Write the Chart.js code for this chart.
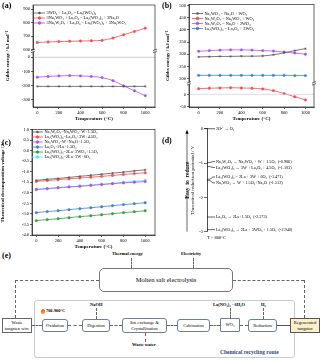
<!DOCTYPE html>
<html>
<head>
<meta charset="utf-8">
<script src="https://cdn.jsdelivr.net/npm/chart.js@4.4.1/dist/chart.umd.min.js"></script>
<style>
  body { margin: 0; background: #fff; font-family: "Liberation Serif", serif; }
  #wrap { position: relative; width: 323px; height: 360px; overflow: hidden; }
  canvas { position: absolute; }
  .lbl { position: absolute; font-weight: bold; font-size: 8px; }
  .t { position: absolute; font-size: 4.5px; line-height: 1.1; white-space: nowrap; text-align: center; }
  .bx { position: absolute; box-sizing: border-box; border: 0.7px solid #6f7f90; border-radius: 3px; background: #fff;
        display: flex; align-items: center; justify-content: center; text-align: center; font-size: 4.5px; line-height: 1.15; }
  .hd { position: absolute; height: 0; border-top: 1px dashed #666; }
  .vd { position: absolute; width: 0; border-left: 1px dashed #666; }
</style>
</head>
<body>
<div id="wrap">
  <canvas id="ca" width="160" height="125" style="left:0;top:0"></canvas>
  <canvas id="cb" width="163" height="125" style="left:160px;top:0"></canvas>
  <canvas id="cc" width="160" height="125" style="left:0;top:125px"></canvas>
  <canvas id="cd" width="163" height="120" style="left:160px;top:125px"></canvas>

  <div class="lbl" style="left:2px;top:1px">(a)</div>
  <div class="lbl" style="left:162px;top:1px">(b)</div>
  <div class="lbl" style="left:2px;top:138px">(c)</div>
  <div class="lbl" style="left:162px;top:136px">(d)</div>
  <div class="lbl" style="left:2px;top:251px">(e)</div>

  <!-- (e) flow diagram -->
  <div class="t" style="left:112px;top:252px;font-weight:bold">Thermal energy</div>
  <div class="t" style="left:181px;top:252px;font-weight:bold">Electricity</div>
  <div class="vd" style="left:131px;top:258px;height:10px"></div>
  <div class="vd" style="left:193px;top:258px;height:10px"></div>
  <div class="bx" style="left:99px;top:268px;width:134px;height:24px;border-radius:5px;border-color:#777;font-size:6.5px">Molten salt electrolysis</div>
  <div class="hd" style="left:15px;top:280px;width:84px"></div>
  <div class="vd" style="left:15px;top:280px;height:38px"></div>
  <div class="hd" style="left:233px;top:280px;width:71px"></div>
  <div class="vd" style="left:304px;top:280px;height:38px"></div>

  <div style="position:absolute;left:34px;top:300px;width:261px;height:58px;box-sizing:border-box;border:1px solid #c3ccd6;border-radius:3px"></div>
  <div class="t" style="left:220px;top:349px;font-size:5.5px;font-weight:bold;color:#2c4a86">Chemical recycling route</div>

  <div class="hd" style="left:32px;top:325px;width:10px"></div>
  <div class="hd" style="left:68px;top:325px;width:14px"></div>
  <div class="hd" style="left:110px;top:325px;width:12px"></div>
  <div class="hd" style="left:167px;top:325px;width:10px"></div>
  <div class="hd" style="left:210px;top:325px;width:10px"></div>
  <div class="hd" style="left:240px;top:325px;width:8px"></div>
  <div style="position:absolute;left:277px;top:325px;width:13px;height:0;border-top:1px solid #555"></div>

  <div class="bx" style="left:2px;top:318px;width:30px;height:15px;border-radius:0;border-color:#666">Waste<br>tungsten wire</div>
  <div class="bx" style="left:42px;top:319px;width:26px;height:13px">Oxidation</div>
  <div class="bx" style="left:82px;top:319px;width:28px;height:13px">Digestion</div>
  <div class="bx" style="left:122px;top:318px;width:45px;height:15px">Ion exchange &amp;<br>Crystallization</div>
  <div class="bx" style="left:177px;top:319px;width:33px;height:13px">Calcination</div>
  <div class="bx" style="left:220px;top:318px;width:20px;height:14px;border-radius:1px">WO₃</div>
  <div class="bx" style="left:248px;top:319px;width:29px;height:13px">Reduction</div>
  <div class="bx" style="left:290px;top:318px;width:30px;height:15px;border-radius:0;border-color:#555;background:#fbeecb">Regenerated<br>tungsten</div>

  <div style="position:absolute;left:41px;top:309px;width:4px;height:5px;border-radius:50% 50% 40% 40%;background:linear-gradient(#ff3b30,#ffb300)"></div>
  <div class="t" style="left:46px;top:309px;font-weight:bold;font-size:4.3px">700-900°C</div>
  <div class="t" style="left:90px;top:303px;font-weight:bold">NaOH</div>
  <div class="vd" style="left:96px;top:308px;height:11px"></div>
  <div class="t" style="left:213px;top:303px;font-weight:bold">La(NO₃)₃ · 6H₂O</div>
  <div class="vd" style="left:230px;top:308px;height:10px"></div>
  <div class="t" style="left:261px;top:303px;font-weight:bold">H₂</div>
  <div class="vd" style="left:263px;top:308px;height:11px"></div>
  <div class="vd" style="left:145px;top:333px;height:9px;border-left-color:#e8343a"></div>
  <div class="t" style="left:132px;top:343px;font-weight:bold">Waste water</div>
</div>

<script>
// ---- shared ----
const temps = [0, 100, 200, 300, 400, 500, 600, 700, 800, 900, 1000];
const xTicks = [0, 200, 400, 600, 800, 1000];

// ---- (a) Gibbs energy of La2(WO4)3 formation ----
const aLabels = ['3WO₃ + La₂O₃ = La₂(WO₄)₃', '3Na₂WO₄ + La₂O₃ = La₂(WO₄)₃ + 3Na₂O', '3Na₂W₂O₇ + La₂O₃ = La₂(WO₄)₃ + 3Na₂WO₄'];
const aWO3 = [-205, -205, -205, -205, -205, -205, -205, -205, -205, -205, -205];
const aNa2WO4 = [652, 656, 659, 661, 663, 665, 668, 685, 710, 734, 758];
const aNa2W2O7 = [-140, -135, -131, -129, -131, -135, -143, -164, -201, -236, -270];
const aTopTicks = [600, 700, 800, 900];
const aBotTicks = [0, -100, -200, -300];

// ---- (b) Gibbs energy of decomposition ----
const bLabels = ['Na₂WO₄ = Na₂O + WO₃', 'Na₂W₂O₇ = Na₂WO₄ + WO₃', 'Na₂W₂O₇ = Na₂O + 2WO₃', 'La₂(WO₄)₃ = La₂O₃ + 3WO₃'];
const bNa2WO4 = [289, 290, 291, 291, 292, 292, 293, 298, 306, 315, 323];
const bNa2W2O7a = [23, 25, 26, 27, 26, 25, 22, 15, 3, -10, -23];
const bNa2W2O7b = [312, 315, 317, 318, 318, 317, 315, 313, 309, 305, 300];
const bLa = [213, 213, 213, 213, 213, 213, 213, 213, 213, 212, 212];
const bTopTicks = [200, 250, 300, 350, 400, 450, 500];
const bBotTicks = [0, -50];

// ---- (c) theoretical decomposition voltage ----
const cLabels = ['Na₂W₂O₇=Na₂WO₄+W+1.5O₂', 'La₂(WO₄)₃=La₂O₃+3W+4.5O₂', 'Na₂WO₄=W+Na₂O+1.5O₂', 'La₂O₃=2La+1.5O₂', 'La₂(WO₄)₃=2La+3WO₃+1.5O₂', 'La₂(WO₄)₃=2La+3W+6O₂'];
const cNa2W2O7 = [-1.41, -1.36, -1.32, -1.27, -1.22, -1.17, -1.12, -1.07, -1.02, -0.96, -0.91];
const cLaW = [-1.46, -1.42, -1.38, -1.34, -1.30, -1.26, -1.22, -1.18, -1.13, -1.09, -1.05];
const cNa2WO4 = [-1.84, -1.80, -1.76, -1.72, -1.69, -1.65, -1.61, -1.57, -1.53, -1.50, -1.47];
const cLa2O3 = [-2.94, -2.89, -2.85, -2.80, -2.75, -2.71, -2.66, -2.61, -2.56, -2.52, -2.47];
const cLaWO3 = [-3.32, -3.27, -3.23, -3.18, -3.13, -3.09, -3.04, -2.99, -2.94, -2.90, -2.85];
const cLaLa = [-1.85, -1.81, -1.76, -1.72, -1.68, -1.63, -1.59, -1.55, -1.50, -1.46, -1.41];
const cTicks = [1.0, 0.5, 0.0, -0.5, -1.0, -1.5, -2.0, -2.5, -3.0, -3.5, -4.0];

// ---- (d) reduction potentials at 800 C ----
const dPotentials = [0, -0.986, -1.103, -1.471, -1.512, -2.573, -2.940];
const dLabels = ['2O²⁻ → O₂', 'Na₂W₂O₇ → Na₂WO₄ + W + 1.5O₂  (-0.986)', 'La₂(WO₄)₃ → 3W + La₂O₃ + 4.5O₂  (-1.103)',
  'La₂(WO₄)₃ = 2La + 3W + 6O₂  (-1.471)', 'Na₂WO₄ → W + 1.5O₂+Na₂O  (-1.512)', 'La₂O₃ → 2La+1.5O₂  (-2.573)',
  'La₂(WO₄)₃ → 2La + 3WO₃ + 1.5O₂  (-2.940)'];
const dTicks = [0, -1, -2, -3];

Chart.defaults.font.family = '"Liberation Serif", serif';
Chart.defaults.color = '#000';
Chart.defaults.animation = false;

const pts = vals => vals.map((v, i) => ({ x: temps[i], y: v }));
const fixTicks = arr => s => { s.ticks = arr.map(v => ({ value: v })); };

function series(label, vals, color, axis, style) {
  return {
    label, data: pts(vals), yAxisID: axis,
    borderColor: color, backgroundColor: color, borderWidth: 0.8,
    pointStyle: style || 'circle', pointRadius: 1.2, pointBorderWidth: 0.5, tension: 0.3
  };
}

function yAxis(extra) {
  return Object.assign({
    type: 'linear', position: 'left',
    border: { color: '#000', width: 0.6 },
    grid: { drawOnChartArea: false, tickLength: 2, color: '#000', lineWidth: 0.6 },
    ticks: { font: { size: 4.5 }, padding: 1, autoSkip: false, callback: v => String(v) }
  }, extra);
}

function xAxis(min, max, h) {
  return {
    type: 'linear', min, max, afterBuildTicks: fixTicks(xTicks),
    afterFit: s => { s.height = h; },
    border: { color: '#000', width: 0.6 },
    grid: { drawOnChartArea: false, tickLength: 2, color: '#000', lineWidth: 0.6 },
    ticks: { font: { size: 4.5 }, padding: 1, maxRotation: 0, autoSkip: false, callback: v => String(v) },
    title: { display: true, text: 'Temperature (°C)', font: { size: 5, weight: 'bold' }, padding: 0 }
  };
}

// frame, axis break, zero line, rotated y title
const framePlugin = {
  id: 'frame',
  afterDraw(chart, args, o) {
    const { ctx, chartArea: a } = chart;
    ctx.save();
    if (o.zero) {
      const y0 = chart.scales[o.zero.axis].getPixelForValue(0);
      ctx.strokeStyle = o.zero.color; ctx.lineWidth = 0.6;
      ctx.beginPath(); ctx.moveTo(a.left, y0); ctx.lineTo(a.right, y0); ctx.stroke();
    }
    ctx.strokeStyle = '#000'; ctx.lineWidth = 0.6;
    ctx.strokeRect(a.left, a.top, a.right - a.left, a.bottom - a.top);
    if (o.breakAxis) {
      const yb = chart.scales[o.breakAxis].bottom;
      [a.left, a.right].forEach(x => {
        ctx.fillStyle = '#fff'; ctx.fillRect(x - 2, yb - 1, 4, 2);
        ctx.beginPath();
        ctx.moveTo(x - 2, yb - 0.2); ctx.lineTo(x + 2, yb - 1.8);
        ctx.moveTo(x - 2, yb + 1.8); ctx.lineTo(x + 2, yb + 0.2);
        ctx.stroke();
      });
    }
    if (o.yTitle) {
      ctx.translate(o.yTitleX, (a.top + a.bottom) / 2);
      ctx.rotate(-Math.PI / 2);
      ctx.fillStyle = '#000'; ctx.font = 'bold 5px "Liberation Serif", serif';
      ctx.textAlign = 'center'; ctx.textBaseline = 'middle';
      ctx.fillText(o.yTitle, 0, 0);
    }
    ctx.restore();
  }
};

// legend drawn inside the plot area
const legendPlugin = {
  id: 'inLegend',
  afterDraw(chart, args, o) {
    const { ctx, chartArea: a } = chart;
    ctx.save();
    ctx.font = o.size + 'px "Liberation Serif", serif';
    ctx.textBaseline = 'middle';
    chart.data.datasets.forEach((ds, i) => {
      const x = a.left + o.left, y = a.top + o.top + i * o.gap;
      ctx.strokeStyle = ds.borderColor; ctx.fillStyle = ds.backgroundColor; ctx.lineWidth = 0.8;
      ctx.beginPath(); ctx.moveTo(x, y); ctx.lineTo(x + o.len, y); ctx.stroke();
      if (Chart.helpers && Chart.helpers.drawPoint) {
        Chart.helpers.drawPoint(ctx, { pointStyle: ds.pointStyle, radius: 1.3, borderWidth: 0.5, rotation: 0 }, x + o.len / 2, y);
      }
      ctx.fillStyle = '#000';
      ctx.fillText(ds.label, x + o.len + 1.5, y + 0.3);
    });
    ctx.restore();
  }
};

// (a) -- in a stack, the axis defined later is placed on top
new Chart(document.getElementById('ca'), {
  type: 'line',
  data: {
    datasets: [
      series(aLabels[0], aWO3, '#555555', 'yBot', 'star'),
      series(aLabels[1], aNa2WO4, '#ff4a4a', 'yTop', 'circle'),
      series(aLabels[2], aNa2W2O7, '#b04cf5', 'yBot', 'circle')
    ]
  },
  options: {
    responsive: false,
    layout: { padding: { top: 5, right: 5, left: 0, bottom: 3 } },
    scales: {
      x: xAxis(-40, 1090, 15),
      yBot: yAxis({ stack: 'a', stackWeight: 55, min: -350, max: 45, afterBuildTicks: fixTicks(aBotTicks), afterFit: s => { s.width = 33; } }),
      yTop: yAxis({ stack: 'a', stackWeight: 45, min: 590, max: 930, afterBuildTicks: fixTicks(aTopTicks), afterFit: s => { s.width = 33; } })
    },
    plugins: {
      legend: { display: false }, tooltip: { enabled: false },
      frame: { breakAxis: 'yTop', zero: { axis: 'yBot', color: '#aaaaaa' }, yTitle: 'Gibbs energy / kJ mol⁻¹', yTitleX: 8 },
      inLegend: { left: 1, top: 8, gap: 5, len: 11, size: 4.3 }
    }
  },
  plugins: [framePlugin, legendPlugin]
});

// (b)
new Chart(document.getElementById('cb'), {
  type: 'line',
  data: {
    datasets: [
      series(bLabels[0], bNa2WO4, '#555555', 'yTop', 'star'),
      series(bLabels[1], bNa2W2O7a, '#ff4a4a', 'yBot', 'circle'),
      series(bLabels[2], bNa2W2O7b, '#b04cf5', 'yTop', 'circle'),
      series(bLabels[3], bLa, '#3a7fd5', 'yTop', 'circle')
    ]
  },
  options: {
    responsive: false,
    layout: { padding: { top: 2, right: 9, left: 0, bottom: 3 } },
    scales: {
      x: xAxis(-90, 1080, 15),
      yBot: yAxis({ stack: 'b', stackWeight: 24, min: -52, max: 45, afterBuildTicks: fixTicks(bBotTicks), afterFit: s => { s.width = 29; } }),
      yTop: yAxis({ stack: 'b', stackWeight: 80, min: 180, max: 505, afterBuildTicks: fixTicks(bTopTicks), afterFit: s => { s.width = 29; } })
    },
    plugins: {
      legend: { display: false }, tooltip: { enabled: false },
      frame: { breakAxis: 'yTop', zero: { axis: 'yBot', color: '#b9c6e8' }, yTitle: 'Gibbs energy / kJ mol⁻¹', yTitleX: 8 },
      inLegend: { left: 3, top: 9, gap: 5, len: 11, size: 4.3 }
    }
  },
  plugins: [framePlugin, legendPlugin]
});

// (c)
new Chart(document.getElementById('cc'), {
  type: 'line',
  data: {
    datasets: [
      series(cLabels[0], cNa2W2O7, '#555555', 'y', 'star'),
      series(cLabels[1], cLaW, '#ff4a4a', 'y', 'circle'),
      series(cLabels[2], cNa2WO4, '#b04cf5', 'y', 'circle'),
      series(cLabels[3], cLa2O3, '#3a7fd5', 'y', 'circle'),
      series(cLabels[4], cLaWO3, '#2e9e3e', 'y', 'circle'),
      series(cLabels[5], cLaLa, '#4fe8ee', 'y', 'circle')
    ]
  },
  options: {
    responsive: false,
    layout: { padding: { top: 3.5, right: 5, left: 0, bottom: 0 } },
    scales: {
      x: xAxis(-40, 1090, 15),
      y: yAxis({
        min: -4.0, max: 1.0, afterBuildTicks: fixTicks(cTicks), afterFit: s => { s.width = 32; },
        ticks: { font: { size: 4.5 }, padding: 1, autoSkip: false, callback: v => v.toFixed(1) },
        title: { display: true, text: 'Theoretical decomposition voltage / V', font: { size: 5, weight: 'bold' }, padding: 0 }
      })
    },
    plugins: {
      legend: { display: false }, tooltip: { enabled: false },
      frame: {},
      inLegend: { left: 0, top: 2.5, gap: 5, len: 11, size: 4.3 }
    }
  },
  plugins: [framePlugin, legendPlugin]
});

// (d) potential ladder
const potPlugin = {
  id: 'pot',
  afterDraw(chart) {
    const { ctx, chartArea: a } = chart;
    const ys = chart.scales.y;
    const py = dPotentials.map(p => ys.getPixelForValue(p));
    const ty = py.slice();
    for (let k = 0; k < 30; k++) {
      for (let i = 1; i < ty.length; i++) {
        const d = ty[i] - ty[i - 1];
        if (d < 6) { ty[i] += (6 - d) / 2; ty[i - 1] -= (6 - d) / 2; }
      }
    }
    ctx.save();
    ctx.strokeStyle = '#000'; ctx.lineWidth = 0.6;
    ctx.fillStyle = '#000';
    ctx.font = '4.2px "Liberation Serif", serif';
    ctx.textBaseline = 'middle';
    py.forEach((y, i) => {
      const x0 = a.left;
      ctx.beginPath();
      ctx.moveTo(i === 0 ? x0 - 3 : x0, y);
      ctx.lineTo(x0 + 3, y); ctx.lineTo(x0 + 6, ty[i]); ctx.lineTo(x0 + 8, ty[i]);
      ctx.stroke();
      ctx.fillText(dLabels[i], x0 + 9, ty[i] + 0.3);
    });
    ctx.font = '4.5px "Liberation Serif", serif';
    ctx.fillText('T = 800°C', a.left, a.bottom + 6.5);
    // arrow "Easy to reduce"
    const ax = a.left - 20;
    const mid = (a.top + a.bottom) / 2;
    ctx.beginPath();
    ctx.moveTo(ax, a.bottom); ctx.lineTo(ax, mid + 14);
    ctx.moveTo(ax, mid - 14); ctx.lineTo(ax, a.top + 3);
    ctx.stroke();
    ctx.beginPath();
    ctx.moveTo(ax, a.top + 1); ctx.lineTo(ax - 1.6, a.top + 5); ctx.lineTo(ax + 1.6, a.top + 5); ctx.closePath(); ctx.fill();
    ctx.translate(ax, mid);
    ctx.rotate(-Math.PI / 2);
    ctx.textAlign = 'center';
    ctx.font = 'bold 5.5px "Liberation Serif", serif';
    ctx.fillText('Easy  to  reduce', 0, 0.3);
    ctx.restore();
  }
};

new Chart(document.getElementById('cd'), {
  type: 'scatter',
  data: { datasets: [{ data: dPotentials.map(p => ({ x: 0, y: p })), pointRadius: 0 }] },
  options: {
    responsive: false,
    layout: { padding: { top: 3.3, right: 0, left: 30, bottom: 13.3 } },
    scales: {
      x: { display: false, min: 0, max: 1 },
      y: yAxis({
        min: -3, max: 0, afterBuildTicks: fixTicks(dTicks), afterFit: s => { s.width = 17; },
        grid: { drawOnChartArea: false, tickLength: 3, color: '#000', lineWidth: 0.6 },
        border: { color: '#000', width: 0.7 },
        ticks: { font: { size: 4.5 }, padding: 1, autoSkip: false, callback: v => String(v) },
        title: { display: true, text: 'Theoretical reduction potential / V', font: { size: 5 }, padding: 0 }
      })
    },
    plugins: { legend: { display: false }, tooltip: { enabled: false } }
  },
  plugins: [potPlugin]
});
</script>
</body>
</html>
